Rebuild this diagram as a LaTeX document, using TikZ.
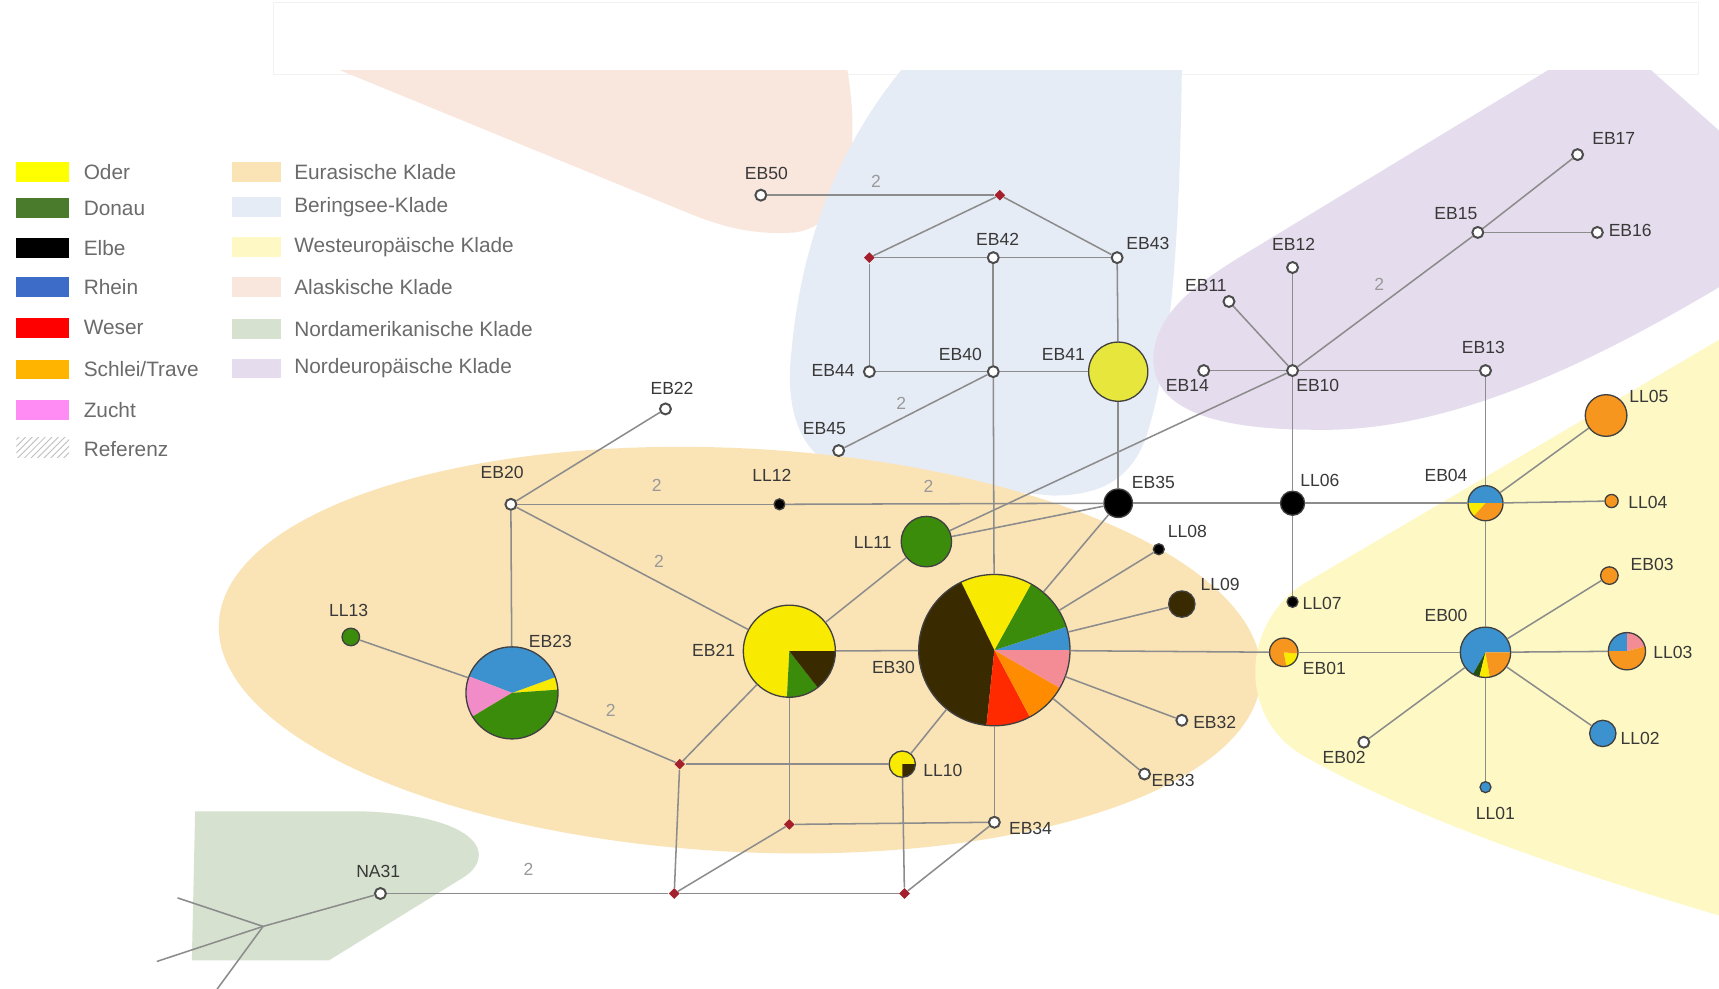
\documentclass[tikz,border=0pt]{standalone}
\usepackage{fontspec}
\setmainfont{Liberation Sans}
\usepackage{xcolor}
\usepackage{tikz}
\usetikzlibrary{shapes.geometric, positioning, patterns}

% legend colours
\definecolor{oder}{HTML}{FFFF00}
\definecolor{donau}{HTML}{4A7A2C}
\definecolor{elbe}{HTML}{000000}
\definecolor{rhein}{HTML}{3C6CC8}
\definecolor{weser}{HTML}{FF0000}
\definecolor{schlei}{HTML}{FFB400}
\definecolor{zucht}{HTML}{FF8CF5}
% pie colours
\definecolor{pyellow}{HTML}{F8EA00}
\definecolor{plime}{HTML}{E6E63C}
\definecolor{pgreen}{HTML}{3C8C0C}
\definecolor{pdkgreen}{HTML}{24500C}
\definecolor{pbrown}{HTML}{3A2A00}
\definecolor{pblue}{HTML}{3C92CE}
\definecolor{pred}{HTML}{FF2A00}
\definecolor{porange}{HTML}{FF8C00}
\definecolor{pschlei}{HTML}{F7961E}
\definecolor{ppink}{HTML}{F48C96}
\definecolor{pzucht}{HTML}{F28CC8}
\definecolor{median}{HTML}{A3202C}
% clade colours
\definecolor{eurasia}{HTML}{FAE4B6}
\definecolor{bering}{HTML}{E6ECF6}
\definecolor{westeu}{HTML}{FEF9C4}
\definecolor{alaska}{HTML}{F9E7DD}
\definecolor{namerica}{HTML}{D6E1CF}
\definecolor{nordeu}{HTML}{E5DDED}

\newcommand{\piechart}[3]{%
  \foreach \a/\b/\c in {#3}
    \fill[\c] (#1.center) -- ++(-\a:#2) arc[start angle=-\a, end angle=-\b, radius=#2] -- cycle;
  \draw[pieline] (#1.center) circle (#2);
}

\begin{document}
\begin{tikzpicture}[x=0.5pt, y=-0.5pt,
  hap/.style={circle, inner sep=0pt, draw=black!75, line width=0.6pt},
  pienode/.style={circle, inner sep=0pt},
  vert/.style={circle, inner sep=0pt, fill=white, draw=black!70, line width=0.9pt, minimum size=5pt},
  mv/.style={diamond, inner sep=0pt, fill=median, minimum size=5pt},
  edge/.style={draw=black!45, line width=0.7pt},
  pieline/.style={draw=black!75, line width=0.6pt},
  lbl/.style={font=\fontsize{8}{9}\selectfont, text=black!78, inner sep=1pt},
  num/.style={font=\fontsize{8}{9}\selectfont, text=black!40, inner sep=1pt},
  legtxt/.style={font=\fontsize{9.5}{11}\selectfont, text=black!58, anchor=west, inner sep=1pt},
  swatch/.style={inner sep=0pt, minimum width=24pt, minimum height=9pt},
  swatchb/.style={inner sep=0pt, minimum width=22pt, minimum height=9pt}]
\useasboundingbox (0,0) rectangle (1568,902);
\fill[white] (0,0) rectangle (1568,902);
\draw[black!5] (249,2) rectangle (1549,68);

% clades
\fill[alaska] (310,64) -- (773,64) .. controls (785,140) and (775,205) .. (725,212)
  .. controls (685,215) and (655,205) .. (632,196) -- cycle;
\fill[bering] (822,64) -- (1078,64) .. controls (1076,220) and (1068,330) .. (1045,400)
  .. controls (1030,440) and (1000,452) .. (960,452) -- (790,436)
  .. controls (732,426) and (715,380) .. (722,320) .. controls (730,230) and (760,140) .. (822,64) -- cycle;
\fill[nordeu] (1412,64) -- (1506,64) -- (1568,119) -- (1568,262)
  .. controls (1470,320) and (1330,395) .. (1200,392) .. controls (1100,392) and (1050,370) .. (1052,325)
  .. controls (1055,285) and (1090,260) .. (1130,235) -- cycle;
\fill[eurasia] (675,593) ellipse [x radius=476, y radius=184, rotate=-3];
\fill[westeu] (1568,310) -- (1190,532) .. controls (1132,568) and (1128,655) .. (1190,690)
  .. controls (1300,752) and (1450,800) .. (1568,835) -- cycle;
\fill[namerica] (178,740) -- (330,740) .. controls (440,744) and (455,782) .. (420,802)
  -- (300,876) -- (175,876) -- cycle;

% legend
\foreach \n/\c/\y in {Oder/oder/157, Donau/donau/190, Elbe/elbe/226, Rhein/rhein/262,
    Weser/weser/299, {Schlei/Trave}/schlei/337, Zucht/zucht/374} {
  \node[swatch, fill=\c] (sw\c) at (39,\y) {};
  \node[legtxt] (leg\c) at (74,\y) {\n};
}
\node[swatch, pattern=north east lines, pattern color=black!25] (swref) at (39,408) {};
\node[legtxt] (legref) at (74,410) {Referenz};
\foreach \n/\c/\y in {Eurasische Klade/eurasia/157, Beringsee-Klade/bering/189,
    Westeuropäische Klade/westeu/225, Alaskische Klade/alaska/262,
    Nordamerikanische Klade/namerica/300, Nordeuropäische Klade/nordeu/336} {
  \node[swatchb, fill=\c] (sw\c) at (234,\y) {};
  \node[legtxt] (leg\c) at (266,\y) {\n};
}

% median vectors
\node[mv] (mv1) at (912,178) {};
\node[mv] (mv2) at (793,235) {};
\node[mv] (mv3) at (620,697) {};
\node[mv] (mv4) at (720,752) {};
\node[mv] (mv5) at (615,815) {};
\node[mv] (mv6) at (825,815) {};

% haplotypes without samples
\foreach \h/\x/\y in {EB50/694/178, EB42/906/235, EB43/1019/235, EB44/793/339, EB40/906/339,
    EB45/765/411, EB22/607/373, EB20/466/460, EB10/1179/338, EB14/1098/338, EB11/1121/275,
    EB12/1179/244, EB13/1355/338, EB15/1348/212, EB16/1457/212, EB17/1439/141,
    EB32/1078/657, EB33/1044/706, EB34/907/750, EB02/1244/677, NA31/347/815}
  \node[vert] (\h) at (\x,\y) {};

% one-colour haplotypes
\node[hap, fill=plime, minimum size=27pt] (EB41) at (1020,339) {};
\node[hap, fill=pgreen, minimum size=23pt] (LL11) at (845,494) {};
\node[hap, fill=black, minimum size=13pt] (EB35) at (1020,459) {};
\node[hap, fill=black, minimum size=11pt] (LL06) at (1179,459) {};
\node[hap, fill=black, minimum size=5pt] (LL12) at (711,460) {};
\node[hap, fill=black, minimum size=5pt] (LL08) at (1057,501) {};
\node[hap, fill=black, minimum size=5pt] (LL07) at (1179,549) {};
\node[hap, fill=pbrown, minimum size=12pt] (LL09) at (1078,551) {};
\node[hap, fill=pgreen, minimum size=8pt] (LL13) at (320,581) {};
\node[hap, fill=pschlei, minimum size=19pt] (LL05) at (1465,379) {};
\node[hap, fill=pschlei, minimum size=6pt] (LL04) at (1470,457) {};
\node[hap, fill=pschlei, minimum size=8pt] (EB03) at (1468,525) {};
\node[hap, fill=pblue, minimum size=12pt] (LL02) at (1462,669) {};
\node[hap, fill=pblue, minimum size=5pt] (LL01) at (1355,718) {};

% mixed haplotypes
\node[pienode, minimum size=69pt] (EB30) at (907,593) {};
\node[pienode, minimum size=42pt] (EB21) at (720,594) {};
\node[pienode, minimum size=42pt] (EB23) at (467,632) {};
\node[pienode, minimum size=16pt] (EB04) at (1355,459) {};
\node[pienode, minimum size=23pt] (EB00) at (1355,595) {};
\node[pienode, minimum size=13pt] (EB01) at (1171,595) {};
\node[pienode, minimum size=17pt] (LL03) at (1484,594) {};
\node[pienode, minimum size=12pt] (LL10) at (823,697) {};
\piechart{EB30}{69}{0/18/pblue, 18/61/pgreen, 61/116/pyellow, 116/264/pbrown, 264/298/pred, 298/330/porange, 330/360/ppink}
\piechart{EB21}{42}{0/267/pyellow, 267/308/pgreen, 308/360/pbrown}
\piechart{EB23}{42}{4/20/pyellow, 20/159/pblue, 159/211/pzucht, 211/364/pgreen}
\piechart{EB04}{16}{0/180/pblue, 180/228/pyellow, 228/360/pschlei}
\piechart{EB00}{23}{0/240/pblue, 240/256/pdkgreen, 256/280/pyellow, 280/360/pschlei}
\piechart{EB01}{13}{280/355/pyellow, 355/640/pschlei}
\piechart{LL03}{17}{15/90/ppink, 90/180/pblue, 180/375/pschlei}
\piechart{LL10}{12}{0/270/pyellow, 270/360/pbrown}

% connections
\foreach \u/\v in {EB50/mv1, mv1/mv2, mv1/EB43, mv2/EB42, EB42/EB43, mv2/EB44, EB42/EB40,
    EB43/EB41, EB44/EB40, EB40/EB41, EB40/EB45, EB40/EB30, EB41/EB35, EB35/LL06, LL06/EB04,
    LL06/EB10, LL06/LL07, EB04/EB13, EB04/LL04, EB04/LL05, EB04/EB00, EB10/EB14, EB10/EB11,
    EB10/EB12, EB10/EB13, EB10/EB15, EB15/EB16, EB15/EB17, LL11/EB10, LL11/EB35, LL11/EB21,
    EB20/LL12, LL12/EB35, EB20/EB22, EB20/EB23, EB20/EB21, EB23/LL13, EB23/mv3, EB21/EB30,
    EB21/mv3, EB21/mv4, EB30/EB35, EB30/LL08, EB30/LL09, EB30/EB01, EB30/EB32, EB30/EB33,
    EB30/LL10, EB30/EB34, mv3/LL10, mv3/mv5, mv4/EB34, mv4/mv5, LL10/mv6, EB34/mv6,
    mv5/mv6, mv5/NA31, EB01/EB00, EB00/EB03, EB00/LL03, EB00/LL02, EB00/LL01, EB00/EB02}
  \draw[edge] (\u) -- (\v);

% outgroup
\coordinate (jn) at (240,845);
\coordinate (na1) at (162,819);
\coordinate (na2) at (143,877);
\coordinate (na3) at (196,905);
\draw[edge] (NA31) -- (jn);
\draw[edge] (jn) -- (na1);
\draw[edge] (jn) -- (na2);
\draw[edge] (jn) -- (na3);

% mutation steps
\foreach \x/\y [count=\i] in {799/165, 822/368, 1258/259, 599/443, 847/444, 601/512, 557/648, 482/793}
  \node[num] (st\i) at (\x,\y) {2};

% haplotype labels
\foreach \h/\x/\y in {EB50/699/158, EB42/910/218, EB43/1047/222, EB44/760/338, EB40/876/323,
    EB41/970/323, EB45/752/391, EB22/613/354, EB20/458/431, LL12/704/434, LL11/796/495,
    EB35/1052/440, LL06/1204/438, LL07/1206/550, LL08/1083/485, LL09/1113/533, EB30/815/609,
    EB21/651/593, EB23/502/585, LL13/318/557, LL10/860/703, EB34/940/756, EB32/1108/659,
    EB33/1070/712, EB01/1208/610, EB02/1226/691, EB00/1319/561, EB04/1319/434, LL04/1503/458,
    LL05/1504/362, EB03/1507/515, LL03/1526/595, LL02/1496/674, LL01/1364/742, EB10/1202/352,
    EB14/1083/352, EB11/1100/260, EB12/1180/223, EB13/1353/317, EB15/1328/195, EB16/1487/210,
    EB17/1472/126, NA31/345/795}
  \node[lbl] (t\h) at (\x,\y) {\h};
\end{tikzpicture}
\end{document}
